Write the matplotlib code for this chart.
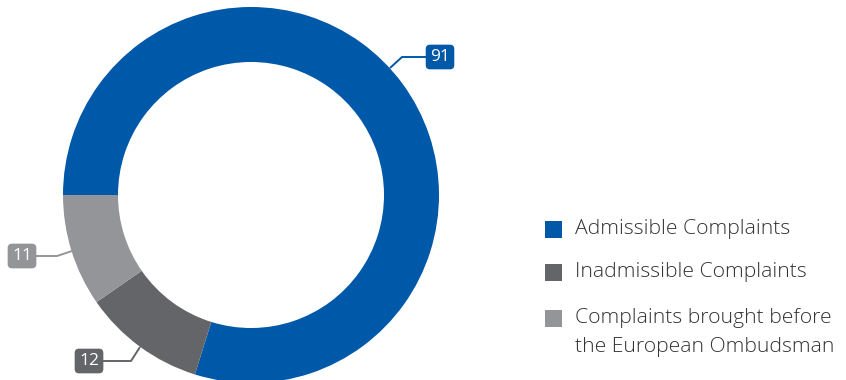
import matplotlib
matplotlib.use("Agg")
import matplotlib.pyplot as plt
from matplotlib.patches import Rectangle

categories = ["Admissible Complaints", "Inadmissible Complaints",
              "Complaints brought before\nthe European Ombudsman"]
values = [91, 12, 11]
colors = ["#0058a9", "#646569", "#939598"]

W, H = 846, 380
fig = plt.figure(figsize=(W / 100, H / 100), dpi=100)
ax = fig.add_axes([0, 0, 1, 1])

cx, cy = 251, H - 195
R, width = 188, 55
ax.pie(values, colors=colors, startangle=180, counterclock=False,
       center=(cx, cy), radius=R, wedgeprops=dict(width=width, linewidth=0),
       frame=False)
ax.set_xlim(0, W)
ax.set_ylim(0, H)
ax.set_aspect("equal")
ax.axis("off")


def py(y):
    return H - y


# label boxes & leader paths (pixel coords, y from top), same order as values
label_boxes = [(440, 57), (89, 361), (22, 256)]
leader_paths = [
    [(390, 68), (402, 57), (427, 57)],
    [(140, 347), (131, 361), (102, 361)],
    [(72, 251), (57, 256), (35, 256)],
]
for v, c, (bx, by), path in zip(values, colors, label_boxes, leader_paths):
    xs = [p[0] for p in path]
    ys = [py(p[1]) for p in path]
    ax.plot(xs, ys, color=c, lw=1.4, solid_capstyle="butt")
    ax.text(bx, py(by), str(v), ha="center", va="center", color="white",
            fontsize=12.5, family="Open Sans",
            bbox=dict(boxstyle="round,pad=0.25,rounding_size=0.25", fc=c, ec="none"))
    ex, ey = path[-1]
    mk = "<" if ex < bx else ">"
    ax.plot([ex + (2 if ex < bx else -2)], [py(ey)], marker=mk, color=c, ms=5, mec="none")

# legend
leg_y = [229, 272, 318]
fs = 15.2
for lab, c, y in zip(categories, colors, leg_y):
    ax.add_patch(Rectangle((545, py(y) - 8.5), 17, 17, fc=c, ec="none"))
    for i, line in enumerate(lab.split("\n")):
        ax.text(575, py(y + 29 * i), line, ha="left", va="center", fontsize=fs,
                color="#333333", family="Open Sans", fontweight="light")

fig.savefig("out.png", dpi=100)
